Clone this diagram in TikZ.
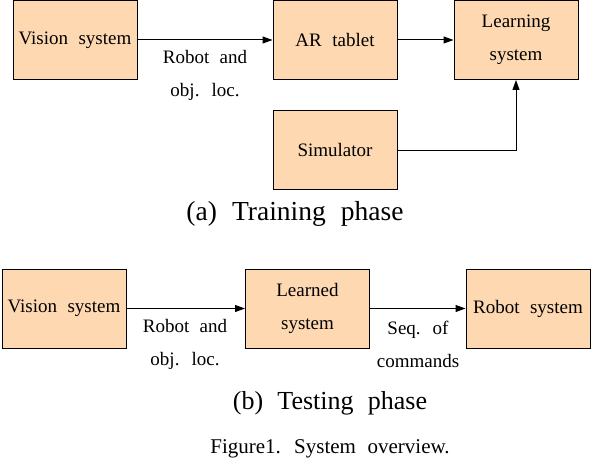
\documentclass[tikz,border=0pt]{standalone}
\usepackage{fontspec}
\setmainfont{Liberation Serif}
\usetikzlibrary{arrows.meta}
\definecolor{boxfill}{HTML}{FDD8B1}
\newcommand{\widespace}{\spaceskip=.55em\relax}

\begin{document}
\begin{tikzpicture}[x=1pt,y=-1pt,
    block/.style={draw=black, fill=boxfill, line width=1pt, minimum width=124pt,
      minimum height=79pt, inner sep=0pt, align=center,
      font=\fontsize{19}{33}\selectfont\widespace},
    lbl/.style={align=center, inner sep=0pt, font=\fontsize{19}{33}\selectfont\widespace},
    subcap/.style={inner sep=0pt, anchor=base, font=\fontsize{26}{30}\selectfont\widespace},
    link/.style={line width=1pt, -{Triangle[length=10pt,width=7pt]}}]
  \useasboundingbox (0,0) rectangle (592,460);
  % (a) training phase
  \node [block] (vis1) at (75,40) {Vision system};
  \node [block] (ar) at (335,40) {AR tablet};
  \node [block] (learn) at (516,40) {Learning\\system};
  \node [block] (sim) at (335,150) {Simulator};
  \draw [link] (vis1) -- (ar);
  \draw [link] (ar) -- (learn);
  \draw [link] (sim.east) -| (learn.south);
  \node [lbl] (loc1) at (205,75) {Robot and\\obj. loc.};
  \node [subcap, font=\fontsize{27.5}{30}\selectfont\widespace] (capa) at (295,220)
    {(a) Training phase};
  % (b) testing phase
  \node [block] (vis2) at (64,308.5) {Vision system};
  \node [block] (learned) at (307.5,308.5) {Learned\\system};
  \node [block] (robot) at (528,308.5) {Robot system};
  \draw [link] (vis2) -- (learned);
  \draw [link] (learned) -- (robot);
  \node [lbl] (loc2) at (185,344) {Robot and\\obj. loc.};
  \node [lbl] (cmds) at (418,344) {Seq. of\\commands};
  \node [subcap] (capb) at (330,409) {(b) Testing phase};
  \node [anchor=base, inner sep=0pt, font=\fontsize{21}{25}\selectfont\widespace] (fig)
    at (330,453) {Figure1. System overview.};
\end{tikzpicture}
\end{document}
